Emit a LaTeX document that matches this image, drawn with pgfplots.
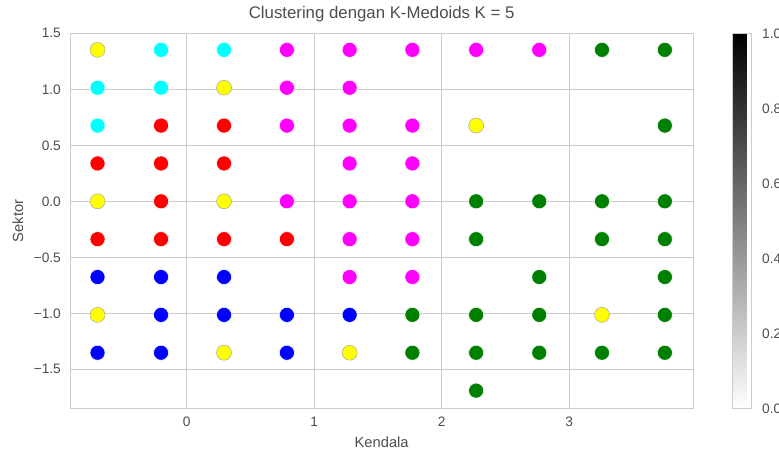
\documentclass[border=0pt]{standalone}
\usepackage{fontspec}
\setmainfont{Liberation Sans}
\usepackage{pgfplots}
\pgfplotsset{compat=1.18}

\definecolor{gridc}{HTML}{CCCCCC}
\definecolor{txt}{HTML}{4D4D4D}
\definecolor{cgreen}{HTML}{008000}
\definecolor{ccyan}{HTML}{00FFFF}
\definecolor{cmag}{HTML}{FF00FF}
\definecolor{cred}{HTML}{FF0000}
\definecolor{cblue}{HTML}{0000FF}
\definecolor{cyel}{HTML}{FFFF00}

% cluster marker style
\pgfplotsset{
  clus/.style={only marks, mark=*, mark size=7.5pt,
    mark options={fill=#1, draw=white, line width=0.5pt}},
}

\begin{document}
\begin{tikzpicture}[x=1pt,y=1pt]
\begin{axis}[
  at={(70pt,43.7pt)}, anchor=south west,
  scale only axis, width=623.3pt, height=375pt,
  xmin=-0.915, xmax=3.973, ymin=-1.848, ymax=1.5,
  xtick={0,1,2,3}, ytick={-1.5,-1,-0.5,0,0.5,1,1.5},
  yticklabels={−1.5,−1.0,−0.5,0.0,0.5,1.0,1.5},
  /pgf/number format/assume math mode=true,
  major tick length=0pt,
  grid=major,
  major grid style={gridc, line width=0.9pt},
  axis line style={gridc, line width=0.9pt},
  tick label style={text=txt, font=\fontsize{13.7}{16}\selectfont},
  xticklabel style={anchor=base, inner sep=0pt, yshift=-18.7pt},
  yticklabel style={anchor=east, inner sep=0pt, xshift=-9pt},
  title={Clustering dengan K-Medoids K = 5},
  title style={at={(0.5,1)}, anchor=base, yshift=8.3pt, inner sep=0pt,
    text=txt, font=\fontsize{16.8}{20}\selectfont},
  xlabel={Kendala},
  xlabel style={at={(0.5,0)}, anchor=base, yshift=-39.7pt, inner sep=0pt,
    text=txt, font=\fontsize{14.7}{17}\selectfont},
  ylabel={Sektor},
  ylabel style={at={(axis description cs:-0.0754,0.5)}, anchor=base, inner sep=0pt,
    text=txt, font=\fontsize{14.7}{17}\selectfont},
  colorbar,
  point meta min=0, point meta max=1,
  colormap={revgray}{gray(0cm)=(1); gray(1cm)=(0)},
  colorbar style={
    at={(parent axis.north east)}, anchor=north west, xshift=30.2pt,
    scale only axis, width=19pt, height=375pt,
    ytick={0,0.2,0.4,0.6,0.8,1},
    yticklabels={0.0,0.2,0.4,0.6,0.8,1.0},
    yticklabel style={anchor=west, inner sep=0pt, xshift=11pt,
      text=txt, font=\fontsize{13.7}{16}\selectfont},
    major tick length=0pt,
    axis line style={gridc, line width=0.9pt},
  },
]
% cluster 1
\addplot[clus=ccyan] coordinates {
  (-0.201,1.352) (0.293,1.352) (-0.699,1.014) (-0.201,1.014) (-0.699,0.676)
};
% cluster 2
\addplot[clus=cred] coordinates {
  (-0.201,0.676) (0.293,0.676)
  (-0.699,0.338) (-0.201,0.338) (0.293,0.338)
  (-0.201,0)
  (-0.699,-0.338) (-0.201,-0.338) (0.293,-0.338) (0.786,-0.338)
};
% cluster 3
\addplot[clus=cmag] coordinates {
  (0.786,1.352) (1.278,1.352) (1.77,1.352) (2.27,1.352) (2.765,1.352)
  (0.786,1.014) (1.278,1.014)
  (0.786,0.676) (1.278,0.676) (1.77,0.676)
  (1.278,0.338) (1.77,0.338)
  (0.786,0) (1.278,0) (1.77,0)
  (1.278,-0.338) (1.77,-0.338)
  (1.278,-0.676) (1.77,-0.676)
};
% cluster 4
\addplot[clus=cblue] coordinates {
  (-0.699,-0.676) (-0.201,-0.676) (0.293,-0.676)
  (-0.201,-1.014) (0.293,-1.014) (0.786,-1.014) (1.278,-1.014)
  (-0.699,-1.352) (-0.201,-1.352) (0.786,-1.352)
};
% cluster 5
\addplot[clus=cgreen] coordinates {
  (3.257,1.352) (3.75,1.352)
  (3.75,0.676)
  (2.27,0) (2.765,0) (3.257,0) (3.75,0)
  (2.27,-0.338) (3.257,-0.338) (3.75,-0.338)
  (2.765,-0.676) (3.75,-0.676)
  (1.77,-1.014) (2.27,-1.014) (2.765,-1.014) (3.75,-1.014)
  (1.77,-1.352) (2.27,-1.352) (2.765,-1.352) (3.257,-1.352) (3.75,-1.352)
  (2.27,-1.69)
};
% medoids
\addplot[only marks, mark=*, mark size=7.5pt,
  mark options={fill=cyel, draw=black!35, line width=0.5pt}] coordinates {
  (-0.699,1.352) (0.293,1.014) (2.27,0.676)
  (-0.699,0) (0.293,0)
  (-0.699,-1.014) (3.257,-1.014)
  (0.293,-1.352) (1.278,-1.352)
};
\end{axis}
\pgfresetboundingbox
\useasboundingbox (0,0) rectangle (779,452);
\end{tikzpicture}
\end{document}
